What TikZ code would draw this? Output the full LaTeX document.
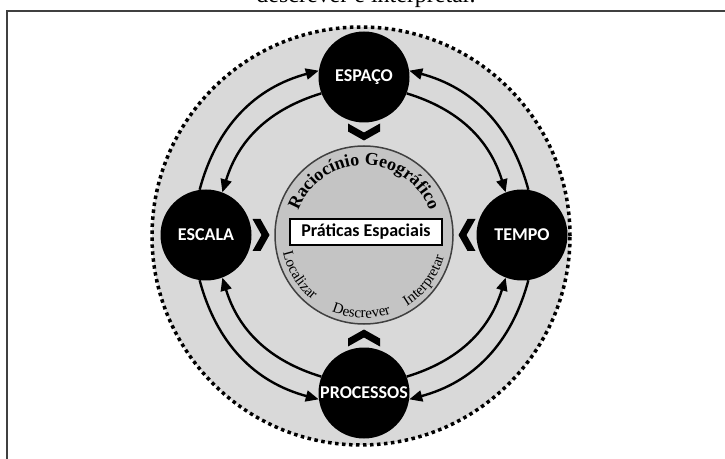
\documentclass[tikz,border=0pt]{standalone}
\usepackage{fontspec}
\setmainfont{Liberation Serif}
\newfontfamily\carlito{Carlito}
\usetikzlibrary{arrows.meta,calc,positioning,decorations.text}

\newcommand{\txtarco}{\bfseries\fontsize{18}{18}\selectfont}
\newcommand{\txtacao}{\fontsize{15}{16}\selectfont}

\tikzset{
  conceito/.style={circle, fill=black, minimum size=91pt, inner sep=0pt, text=white,
    font=\carlito\bfseries\fontsize{18}{18}\selectfont},
  caixa/.style={draw, line width=2.5pt, fill=white, minimum width=152pt, minimum height=26pt,
    inner sep=0pt, font=\carlito\bfseries\fontsize{18}{18}\selectfont},
  rel/.style={line width=2.4pt},
}

\begin{document}
\begin{tikzpicture}[x=1pt, y=1pt, node distance=158pt, on grid, >={Triangle[length=13pt,width=11pt]}]
  \useasboundingbox (0,0) rectangle (725,458);
  %% legenda da figura, cortada pela margem de cima
  \node[anchor=base, font=\fontsize{24}{24}\selectfont] (legenda) at (366,455) {descrever e interpretar.};
  \draw[line width=2pt, black!75] (7,-20) rectangle (760,447);

  \coordinate (centro) at (364,223);
  \fill[black!15] (361,222) circle[radius=209];
  \draw[line width=3.5pt, dash pattern=on 3.5pt off 3.5pt] (361,222) circle[radius=209];
  \draw[line width=1.5pt, draw=black!75, fill=black!23] (centro) circle[radius=89];

  %% textos ao longo do circulo central
  \path[decorate, decoration={text along path, text align=center, text={|\txtarco|Raciocínio Geográfico}}]
    ($(centro)+(175:70)$) arc[start angle=175, end angle=5, radius=70];
  \path[decorate, decoration={text along path, text align=center, text={|\txtacao|Localizar}}]
    ($(centro)+(177:83)$) arc[start angle=177, end angle=247, radius=83];
  \path[decorate, decoration={text along path, text align=center, text={|\txtacao|Descrever}}]
    ($(centro)+(233:83)$) arc[start angle=233, end angle=303, radius=83];
  \path[decorate, decoration={text along path, text align=center, text={|\txtacao|Interpretar}}]
    ($(centro)+(288:83)$) arc[start angle=288, end angle=358, radius=83];

  \node[caixa] (praticas) at (366,226) {Práticas Espaciais};

  \coordinate[above=of centro] (p1);
  \coordinate[left=of centro] (p2);
  \coordinate[right=of centro] (p3);
  \coordinate[below=of centro] (p4);

  %% setas duplas entre os conceitos (arco externo e interno)
  \path (p1) node[conceito] (espaco) {ESPAÇO}
        (p2) node[conceito] (escala) {ESCALA}
        (p3) node[conceito] (tempo) {TEMPO}
        (p4) node[conceito] (processos) {PROCESSOS};

  \draw[rel, <-] (espaco.172) to[bend right=30] (escala.98);
  \draw[rel, ->] (espaco.201) to[bend right=28] (escala.69);
  \draw[rel, ->] (escala.262) to[bend right=30] (processos.188);
  \draw[rel, <-] (escala.291) to[bend right=28] (processos.159);
  \draw[rel, <-] (processos.352) to[bend right=30] (tempo.278);
  \draw[rel, ->] (processos.21) to[bend right=28] (tempo.249);
  \draw[rel, ->] (tempo.82) to[bend right=30] (espaco.8);
  \draw[rel, <-] (tempo.111) to[bend right=28] (espaco.339);

  %% chevrons apontando para o centro
  \foreach \a in {0,90,180,270}
    \fill[shift={($(centro)+(\a:103)$)}, rotate=\a+180]
      (-8.5,16) -- (-0.5,16) -- (8.5,0) -- (-0.5,-16) -- (-8.5,-16) -- (0.5,0) -- cycle;
\end{tikzpicture}
\end{document}
